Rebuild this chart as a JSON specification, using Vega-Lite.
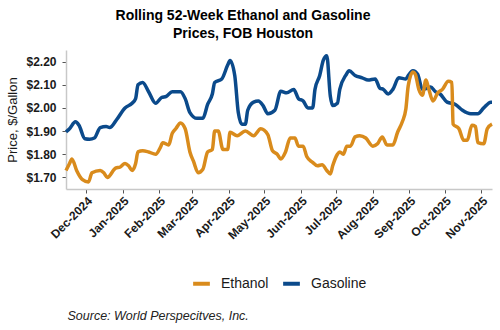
{
  "$schema": "https://vega.github.io/schema/vega-lite/v6.json",
  "width": 426,
  "height": 139,
  "autosize": {"type": "none"},
  "padding": {"left": 66, "top": 50, "right": 8, "bottom": 141},
  "background": "white",
  "config": {
    "view": {"stroke": null},
    "font": "Liberation Sans"
  },
  "title": {
    "text": ["Rolling 52-Week Ethanol and Gasoline", "Prices, FOB Houston"],
    "anchor": "middle",
    "dx": -36,
    "font": "Liberation Sans",
    "fontSize": 14,
    "fontWeight": "bold",
    "color": "#000000",
    "lineHeight": 18,
    "offset": 8
  },
  "data": {
    "values": [
      {"date": "2024-11-14", "series": "Gasoline", "price": 1.897},
      {"date": "2024-11-17", "series": "Gasoline", "price": 1.91},
      {"date": "2024-11-22", "series": "Gasoline", "price": 1.94},
      {"date": "2024-11-25", "series": "Gasoline", "price": 1.925},
      {"date": "2024-11-30", "series": "Gasoline", "price": 1.867},
      {"date": "2024-12-04", "series": "Gasoline", "price": 1.865},
      {"date": "2024-12-08", "series": "Gasoline", "price": 1.87},
      {"date": "2024-12-13", "series": "Gasoline", "price": 1.915},
      {"date": "2024-12-18", "series": "Gasoline", "price": 1.92},
      {"date": "2024-12-21", "series": "Gasoline", "price": 1.915},
      {"date": "2024-12-27", "series": "Gasoline", "price": 1.95},
      {"date": "2025-01-03", "series": "Gasoline", "price": 2.0},
      {"date": "2025-01-09", "series": "Gasoline", "price": 2.02},
      {"date": "2025-01-12", "series": "Gasoline", "price": 2.04},
      {"date": "2025-01-14", "series": "Gasoline", "price": 2.1},
      {"date": "2025-01-18", "series": "Gasoline", "price": 2.11},
      {"date": "2025-01-23", "series": "Gasoline", "price": 2.07},
      {"date": "2025-01-29", "series": "Gasoline", "price": 2.02},
      {"date": "2025-02-03", "series": "Gasoline", "price": 2.045},
      {"date": "2025-02-07", "series": "Gasoline", "price": 2.05},
      {"date": "2025-02-12", "series": "Gasoline", "price": 2.07},
      {"date": "2025-02-19", "series": "Gasoline", "price": 2.07},
      {"date": "2025-02-23", "series": "Gasoline", "price": 2.04},
      {"date": "2025-02-27", "series": "Gasoline", "price": 1.98},
      {"date": "2025-03-05", "series": "Gasoline", "price": 1.955},
      {"date": "2025-03-10", "series": "Gasoline", "price": 1.955},
      {"date": "2025-03-14", "series": "Gasoline", "price": 2.015},
      {"date": "2025-03-18", "series": "Gasoline", "price": 2.06},
      {"date": "2025-03-20", "series": "Gasoline", "price": 2.11},
      {"date": "2025-03-26", "series": "Gasoline", "price": 2.125},
      {"date": "2025-03-31", "series": "Gasoline", "price": 2.185},
      {"date": "2025-04-02", "series": "Gasoline", "price": 2.205},
      {"date": "2025-04-06", "series": "Gasoline", "price": 2.14},
      {"date": "2025-04-09", "series": "Gasoline", "price": 1.98},
      {"date": "2025-04-12", "series": "Gasoline", "price": 1.93},
      {"date": "2025-04-15", "series": "Gasoline", "price": 1.93},
      {"date": "2025-04-17", "series": "Gasoline", "price": 1.99},
      {"date": "2025-04-22", "series": "Gasoline", "price": 2.025},
      {"date": "2025-04-26", "series": "Gasoline", "price": 2.03},
      {"date": "2025-04-30", "series": "Gasoline", "price": 2.01},
      {"date": "2025-05-04", "series": "Gasoline", "price": 1.975},
      {"date": "2025-05-10", "series": "Gasoline", "price": 1.99},
      {"date": "2025-05-15", "series": "Gasoline", "price": 2.072},
      {"date": "2025-05-20", "series": "Gasoline", "price": 2.065},
      {"date": "2025-05-26", "series": "Gasoline", "price": 2.08},
      {"date": "2025-05-30", "series": "Gasoline", "price": 2.04},
      {"date": "2025-06-03", "series": "Gasoline", "price": 2.03},
      {"date": "2025-06-07", "series": "Gasoline", "price": 2.0},
      {"date": "2025-06-11", "series": "Gasoline", "price": 2.0},
      {"date": "2025-06-13", "series": "Gasoline", "price": 2.08},
      {"date": "2025-06-17", "series": "Gasoline", "price": 2.14},
      {"date": "2025-06-20", "series": "Gasoline", "price": 2.205},
      {"date": "2025-06-23", "series": "Gasoline", "price": 2.225},
      {"date": "2025-06-26", "series": "Gasoline", "price": 2.05},
      {"date": "2025-06-28", "series": "Gasoline", "price": 2.01},
      {"date": "2025-07-02", "series": "Gasoline", "price": 2.02},
      {"date": "2025-07-04", "series": "Gasoline", "price": 2.08},
      {"date": "2025-07-09", "series": "Gasoline", "price": 2.14},
      {"date": "2025-07-12", "series": "Gasoline", "price": 2.16},
      {"date": "2025-07-17", "series": "Gasoline", "price": 2.14},
      {"date": "2025-07-23", "series": "Gasoline", "price": 2.13},
      {"date": "2025-07-28", "series": "Gasoline", "price": 2.12},
      {"date": "2025-08-03", "series": "Gasoline", "price": 2.125},
      {"date": "2025-08-07", "series": "Gasoline", "price": 2.085},
      {"date": "2025-08-10", "series": "Gasoline", "price": 2.08},
      {"date": "2025-08-14", "series": "Gasoline", "price": 2.06},
      {"date": "2025-08-18", "series": "Gasoline", "price": 2.08},
      {"date": "2025-08-23", "series": "Gasoline", "price": 2.13},
      {"date": "2025-08-29", "series": "Gasoline", "price": 2.125},
      {"date": "2025-08-31", "series": "Gasoline", "price": 2.14},
      {"date": "2025-09-04", "series": "Gasoline", "price": 2.16},
      {"date": "2025-09-08", "series": "Gasoline", "price": 2.145},
      {"date": "2025-09-12", "series": "Gasoline", "price": 2.08},
      {"date": "2025-09-16", "series": "Gasoline", "price": 2.085},
      {"date": "2025-09-19", "series": "Gasoline", "price": 2.09},
      {"date": "2025-09-23", "series": "Gasoline", "price": 2.07},
      {"date": "2025-09-27", "series": "Gasoline", "price": 2.06},
      {"date": "2025-10-03", "series": "Gasoline", "price": 2.025},
      {"date": "2025-10-10", "series": "Gasoline", "price": 2.015},
      {"date": "2025-10-16", "series": "Gasoline", "price": 1.99},
      {"date": "2025-10-23", "series": "Gasoline", "price": 1.975},
      {"date": "2025-10-29", "series": "Gasoline", "price": 1.975},
      {"date": "2025-11-03", "series": "Gasoline", "price": 2.0},
      {"date": "2025-11-09", "series": "Gasoline", "price": 2.025},
      {"date": "2025-11-10", "series": "Gasoline", "price": 2.025},

      {"date": "2024-11-14", "series": "Ethanol", "price": 1.73},
      {"date": "2024-11-17", "series": "Ethanol", "price": 1.76},
      {"date": "2024-11-19", "series": "Ethanol", "price": 1.78},
      {"date": "2024-11-23", "series": "Ethanol", "price": 1.73},
      {"date": "2024-11-28", "series": "Ethanol", "price": 1.69},
      {"date": "2024-12-03", "series": "Ethanol", "price": 1.68},
      {"date": "2024-12-06", "series": "Ethanol", "price": 1.72},
      {"date": "2024-12-13", "series": "Ethanol", "price": 1.73},
      {"date": "2024-12-16", "series": "Ethanol", "price": 1.72},
      {"date": "2024-12-19", "series": "Ethanol", "price": 1.70},
      {"date": "2024-12-26", "series": "Ethanol", "price": 1.74},
      {"date": "2024-12-30", "series": "Ethanol", "price": 1.745},
      {"date": "2025-01-03", "series": "Ethanol", "price": 1.76},
      {"date": "2025-01-06", "series": "Ethanol", "price": 1.75},
      {"date": "2025-01-09", "series": "Ethanol", "price": 1.73},
      {"date": "2025-01-12", "series": "Ethanol", "price": 1.76},
      {"date": "2025-01-14", "series": "Ethanol", "price": 1.81},
      {"date": "2025-01-18", "series": "Ethanol", "price": 1.815},
      {"date": "2025-01-23", "series": "Ethanol", "price": 1.81},
      {"date": "2025-01-29", "series": "Ethanol", "price": 1.80},
      {"date": "2025-02-02", "series": "Ethanol", "price": 1.83},
      {"date": "2025-02-04", "series": "Ethanol", "price": 1.85},
      {"date": "2025-02-09", "series": "Ethanol", "price": 1.84},
      {"date": "2025-02-12", "series": "Ethanol", "price": 1.89},
      {"date": "2025-02-15", "series": "Ethanol", "price": 1.91},
      {"date": "2025-02-19", "series": "Ethanol", "price": 1.935},
      {"date": "2025-02-23", "series": "Ethanol", "price": 1.91},
      {"date": "2025-02-27", "series": "Ethanol", "price": 1.81},
      {"date": "2025-03-02", "series": "Ethanol", "price": 1.77},
      {"date": "2025-03-06", "series": "Ethanol", "price": 1.72},
      {"date": "2025-03-10", "series": "Ethanol", "price": 1.735},
      {"date": "2025-03-14", "series": "Ethanol", "price": 1.81},
      {"date": "2025-03-18", "series": "Ethanol", "price": 1.82},
      {"date": "2025-03-20", "series": "Ethanol", "price": 1.90},
      {"date": "2025-03-23", "series": "Ethanol", "price": 1.90},
      {"date": "2025-03-27", "series": "Ethanol", "price": 1.82},
      {"date": "2025-03-31", "series": "Ethanol", "price": 1.82},
      {"date": "2025-04-02", "series": "Ethanol", "price": 1.895},
      {"date": "2025-04-08", "series": "Ethanol", "price": 1.88},
      {"date": "2025-04-15", "series": "Ethanol", "price": 1.90},
      {"date": "2025-04-22", "series": "Ethanol", "price": 1.88},
      {"date": "2025-04-28", "series": "Ethanol", "price": 1.91},
      {"date": "2025-05-04", "series": "Ethanol", "price": 1.885},
      {"date": "2025-05-08", "series": "Ethanol", "price": 1.815},
      {"date": "2025-05-12", "series": "Ethanol", "price": 1.80},
      {"date": "2025-05-15", "series": "Ethanol", "price": 1.78},
      {"date": "2025-05-19", "series": "Ethanol", "price": 1.81},
      {"date": "2025-05-23", "series": "Ethanol", "price": 1.87},
      {"date": "2025-05-27", "series": "Ethanol", "price": 1.87},
      {"date": "2025-05-30", "series": "Ethanol", "price": 1.835},
      {"date": "2025-06-03", "series": "Ethanol", "price": 1.835},
      {"date": "2025-06-06", "series": "Ethanol", "price": 1.79},
      {"date": "2025-06-11", "series": "Ethanol", "price": 1.765},
      {"date": "2025-06-15", "series": "Ethanol", "price": 1.75},
      {"date": "2025-06-19", "series": "Ethanol", "price": 1.755},
      {"date": "2025-06-23", "series": "Ethanol", "price": 1.73},
      {"date": "2025-06-26", "series": "Ethanol", "price": 1.715},
      {"date": "2025-06-28", "series": "Ethanol", "price": 1.75},
      {"date": "2025-07-02", "series": "Ethanol", "price": 1.80},
      {"date": "2025-07-04", "series": "Ethanol", "price": 1.81},
      {"date": "2025-07-07", "series": "Ethanol", "price": 1.80},
      {"date": "2025-07-10", "series": "Ethanol", "price": 1.835},
      {"date": "2025-07-13", "series": "Ethanol", "price": 1.835},
      {"date": "2025-07-17", "series": "Ethanol", "price": 1.875},
      {"date": "2025-07-21", "series": "Ethanol", "price": 1.88},
      {"date": "2025-07-26", "series": "Ethanol", "price": 1.87},
      {"date": "2025-08-01", "series": "Ethanol", "price": 1.835},
      {"date": "2025-08-05", "series": "Ethanol", "price": 1.845},
      {"date": "2025-08-09", "series": "Ethanol", "price": 1.875},
      {"date": "2025-08-13", "series": "Ethanol", "price": 1.84},
      {"date": "2025-08-18", "series": "Ethanol", "price": 1.84},
      {"date": "2025-08-22", "series": "Ethanol", "price": 1.895},
      {"date": "2025-08-26", "series": "Ethanol", "price": 1.94},
      {"date": "2025-08-29", "series": "Ethanol", "price": 1.995},
      {"date": "2025-08-31", "series": "Ethanol", "price": 2.095},
      {"date": "2025-09-04", "series": "Ethanol", "price": 2.155},
      {"date": "2025-09-06", "series": "Ethanol", "price": 2.145},
      {"date": "2025-09-09", "series": "Ethanol", "price": 2.08},
      {"date": "2025-09-12", "series": "Ethanol", "price": 2.055},
      {"date": "2025-09-15", "series": "Ethanol", "price": 2.12},
      {"date": "2025-09-17", "series": "Ethanol", "price": 2.09},
      {"date": "2025-09-21", "series": "Ethanol", "price": 2.03},
      {"date": "2025-09-25", "series": "Ethanol", "price": 2.065},
      {"date": "2025-09-29", "series": "Ethanol", "price": 2.08},
      {"date": "2025-10-04", "series": "Ethanol", "price": 2.115},
      {"date": "2025-10-07", "series": "Ethanol", "price": 2.11},
      {"date": "2025-10-08", "series": "Ethanol", "price": 1.93},
      {"date": "2025-10-13", "series": "Ethanol", "price": 1.91},
      {"date": "2025-10-17", "series": "Ethanol", "price": 1.86},
      {"date": "2025-10-20", "series": "Ethanol", "price": 1.86},
      {"date": "2025-10-24", "series": "Ethanol", "price": 1.925},
      {"date": "2025-10-27", "series": "Ethanol", "price": 1.92},
      {"date": "2025-10-29", "series": "Ethanol", "price": 1.85},
      {"date": "2025-11-03", "series": "Ethanol", "price": 1.845},
      {"date": "2025-11-06", "series": "Ethanol", "price": 1.91},
      {"date": "2025-11-10", "series": "Ethanol", "price": 1.93}
    ]
  },
  "mark": {"type": "line", "strokeWidth": 3.5, "interpolate": "monotone"},
  "encoding": {
    "x": {
      "field": "date",
      "type": "temporal",
      "scale": {
        "domain": [
          {"year": 2024, "month": 11, "date": 14, "utc": true},
          {"year": 2025, "month": 11, "date": 10, "utc": true}
        ]
      },
      "axis": {
        "format": "%b-%Y",
        "tickCount": {"interval": "month", "step": 1},
        "labelOverlap": false,
        "labelAngle": -45,
        "labelFont": "Liberation Sans",
        "labelFontSize": 12,
        "labelFontWeight": "bold",
        "labelColor": "#1a1a1a",
        "labelPadding": 2,
        "grid": false,
        "domainColor": "#c8c8c8",
        "domainWidth": 1.5,
        "tickColor": "#555555",
        "tickSize": 4,
        "title": "Source: World Perspecitves, Inc.",
        "titleFont": "Liberation Sans",
        "titleFontStyle": "italic",
        "titleFontWeight": "normal",
        "titleFontSize": 12.5,
        "titleColor": "#222222",
        "titleAnchor": "start",
        "titleAlign": "left",
        "titleBaseline": "middle",
        "titleX": 1,
        "titleY": 126
      }
    },
    "y": {
      "field": "price",
      "type": "quantitative",
      "scale": {"domain": [1.65, 2.25], "zero": false, "nice": false},
      "axis": {
        "values": [1.7, 1.8, 1.9, 2.0, 2.1, 2.2],
        "format": "$.2f",
        "grid": false,
        "labelFont": "Liberation Sans",
        "labelFontSize": 12,
        "labelFontWeight": "bold",
        "labelColor": "#1a1a1a",
        "labelPadding": 6,
        "domainColor": "#c8c8c8",
        "domainWidth": 1.5,
        "tickColor": "#555555",
        "tickSize": 4,
        "title": "Price, $/Gallon",
        "titleFont": "Liberation Sans",
        "titleFontSize": 13,
        "titleFontWeight": "normal",
        "titleColor": "#1a1a1a",
        "titlePadding": 6
      }
    },
    "color": {
      "field": "series",
      "type": "nominal",
      "scale": {"domain": ["Ethanol", "Gasoline"], "range": ["#D98B1C", "#0B4A8B"]},
      "legend": {
        "title": null,
        "orient": "none",
        "direction": "horizontal",
        "legendX": 125,
        "legendY": 223,
        "symbolType": "stroke",
        "symbolStrokeWidth": 4,
        "symbolSize": 280,
        "labelFont": "Liberation Sans",
        "labelFontSize": 14,
        "labelColor": "#1a1a1a",
        "columnPadding": 6,
        "labelOffset": 9
      }
    }
  }
}
